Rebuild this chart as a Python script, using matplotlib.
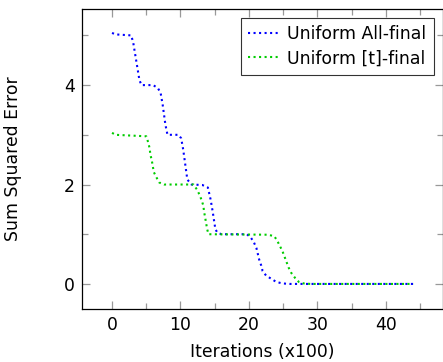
import numpy as np
import matplotlib.pyplot as plt
from matplotlib.ticker import MultipleLocator

# values (iterations in units of 100)
x_all = [0, 0.5, 2.8, 3.1, 3.4, 3.7, 4.0, 4.3, 6.0, 6.7, 7.1, 7.4, 7.8, 8.1, 9.7,
         10.1, 10.4, 10.7, 11.0, 11.6, 13.2, 14.0, 14.4, 14.7, 15.1, 15.4, 16.0,
         19.7, 20.3, 20.75, 21.1, 21.5, 21.8, 22.0, 22.5, 23.3, 24.0, 24.9, 26.0, 44]
y_all = [5.05, 5.02, 5.0, 4.85, 4.6, 4.35, 4.1, 4.0, 4.0, 3.94, 3.84, 3.6, 3.2, 3.0, 3.0,
         2.93, 2.7, 2.4, 2.1, 2.0, 1.99, 1.94, 1.7, 1.46, 1.1, 1.03, 1.0,
         1.0, 0.93, 0.83, 0.72, 0.49, 0.37, 0.26, 0.17, 0.10, 0.04, 0.01, 0.0, 0.0]

x_t = [0, 0.5, 5.0, 5.3, 5.5, 5.6, 5.8, 5.95, 6.1, 6.5, 6.9, 7.6, 11.9,
       12.4, 12.8, 13.1, 13.35, 13.45, 13.6, 13.75, 13.9, 14.1, 22.8,
       23.7, 24.1, 24.5, 24.9, 25.2, 25.5, 25.8, 26.2, 26.75, 27.3, 28.0, 29.0, 44]
y_t = [3.04, 3.0, 2.97, 2.84, 2.72, 2.6, 2.49, 2.37, 2.25, 2.14, 2.04, 2.0, 2.0,
       1.9, 1.79, 1.68, 1.57, 1.45, 1.34, 1.22, 1.1, 1.0, 0.99,
       0.96, 0.88, 0.77, 0.66, 0.55, 0.44, 0.33, 0.22, 0.12, 0.04, 0.01, 0.0, 0.0]

labels = ["Uniform All-final", "Uniform [t]-final"]
xticks = [0, 10, 20, 30, 40]
yticks = [0, 2, 4]

plt.rcParams['font.family'] = ['DejaVu Sans']
fs = 12.4

fig = plt.figure(figsize=(4.43, 3.62), dpi=100)
ax = fig.add_axes([0.185, 0.147, 0.814, 0.828])

ax.plot(x_all, y_all, ls=':', lw=1.5, color='#0000ff', label=labels[0])
ax.plot(x_t, y_t, ls=':', lw=1.5, color='#00cc00', label=labels[1])

ax.set_xlim(-4.4, 48.3)
ax.set_ylim(-0.5, 5.53)
ax.set_xticks(xticks)
ax.set_yticks(yticks)
ax.xaxis.set_minor_locator(MultipleLocator(5))
ax.yaxis.set_minor_locator(MultipleLocator(1))
ax.tick_params(which='both', direction='in', top=True, right=True,
               color='0.6', width=0.9, labelsize=fs)
ax.tick_params(which='major', length=5.8)
ax.tick_params(which='minor', length=4.2)
ax.tick_params(axis='x', pad=5.2)
ax.tick_params(axis='y', pad=5)
for s in ax.spines.values():
    s.set_linewidth(0.9)

ax.set_xlabel("Iterations (x100)", fontsize=fs, labelpad=6.5)
ax.set_ylabel("Sum Squared Error", fontsize=fs, labelpad=30)

leg = ax.legend(loc='upper right', fontsize=fs, frameon=True, fancybox=False,
                handlelength=1.9, handletextpad=0.35, borderpad=0.45,
                labelspacing=0.35, borderaxespad=0.5)
leg.get_frame().set_edgecolor('black')
leg.get_frame().set_linewidth(0.8)

fig.savefig("out.png", dpi=100)
